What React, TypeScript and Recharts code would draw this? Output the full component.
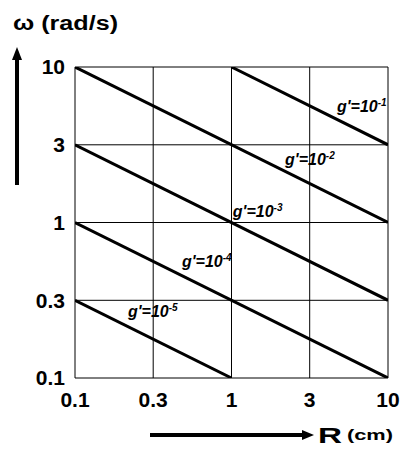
import React from 'react';
import { ComposedChart, Line, Scatter, XAxis, YAxis, CartesianGrid } from 'recharts';

// Log-log chart: R (cm) on x, omega (rad/s) on y
const R_TICKS = [0.1, 0.316, 1, 3.16, 10];
const R_TICK_LABELS = ['0.1', '0.3', '1', '3', '10'];
const W_TICKS = [0.1, 0.316, 1, 3.16, 10];
const W_TICK_LABELS = ['0.1', '0.3', '1', '3', '10'];

const G1 = [{ R: 1, w: 10 }, { R: 10, w: 3.16 }];
const G2 = [{ R: 0.1, w: 10 }, { R: 10, w: 1 }];
const G3 = [{ R: 0.1, w: 3.16 }, { R: 10, w: 0.316 }];
const G4 = [{ R: 0.1, w: 1 }, { R: 10, w: 0.1 }];
const G5 = [{ R: 0.1, w: 0.316 }, { R: 1, w: 0.1 }];

const LABELS = [
  { R: 4.72, w: 5.14, exp: '-1' },
  { R: 2.2, w: 2.34, exp: '-2' },
  { R: 1.02, w: 1.08, exp: '-3' },
  { R: 0.483, w: 0.518, exp: '-4' },
  { R: 0.218, w: 0.247, exp: '-5' },
];

const FONT = '"Liberation Sans", Arial, sans-serif';

const fmt = (labels: string[], ticks: number[]) => (v: number) => {
  const i = ticks.findIndex((t) => Math.abs(t - v) / t < 0.01);
  return i >= 0 ? labels[i] : '';
};

const LabelShape = (props: any) => {
  const { cx, cy, payload } = props;
  return (
    <text x={cx} y={cy} fontFamily={FONT} fontWeight="bold" fontStyle="italic" fontSize={16} fill="#000">
      g'=10
      <tspan fontSize={10} dy={-6}>{payload.exp}</tspan>
    </text>
  );
};

export default function App() {
  return (
    <div style={{ position: 'absolute', left: 0, top: 0, width: 404, height: 449, background: '#fff' }}>
      <ComposedChart width={404} height={449} margin={{ top: 67, right: 16, bottom: 41, left: 15 }}>
        <CartesianGrid stroke="#000" strokeWidth={1} />
        <XAxis
          dataKey="R"
          type="number"
          scale="log"
          domain={[0.1, 10]}
          ticks={R_TICKS}
          tickFormatter={fmt(R_TICK_LABELS, R_TICKS)}
          allowDataOverflow
          axisLine={false}
          tickLine={false}
          height={30}
          tickMargin={8}
          tick={{ fill: '#000', fontSize: 21, fontWeight: 'bold', fontFamily: FONT }}
        />
        <YAxis
          dataKey="w"
          type="number"
          scale="log"
          domain={[0.1, 10]}
          ticks={W_TICKS}
          tickFormatter={fmt(W_TICK_LABELS, W_TICKS)}
          allowDataOverflow
          axisLine={false}
          tickLine={false}
          width={60}
          tickMargin={4}
          tick={{ fill: '#000', fontSize: 21, fontWeight: 'bold', fontFamily: FONT }}
        />
        {[G1, G2, G3, G4, G5].map((d, i) => (
          <Line key={i} data={d} dataKey="w" stroke="#000" strokeWidth={3} dot={false} isAnimationActive={false} />
        ))}
        <Scatter data={LABELS} dataKey="w" shape={LabelShape} isAnimationActive={false} />
      </ComposedChart>
      <svg width={404} height={449} style={{ position: 'absolute', left: 0, top: 0, pointerEvents: 'none' }}>
        <text x={13} y={30} fontFamily={FONT} fontWeight="bold" fontSize={20} fill="#000" textLength={105} lengthAdjust="spacingAndGlyphs">
          ω (rad/s)
        </text>
        <line x1={17} y1={185} x2={17} y2={58} stroke="#000" strokeWidth={4} />
        <polygon points="17,47 12,60 22,60" fill="#000" />
        <line x1={150} y1={435} x2={304} y2={435} stroke="#000" strokeWidth={4} />
        <polygon points="314,435 302,430 302,440" fill="#000" />
        <text x={318} y={443} fontFamily={FONT} fontWeight="bold" fontSize={22} fill="#000" textLength={24} lengthAdjust="spacingAndGlyphs">
          R
        </text>
        <text x={347} y={440} fontFamily={FONT} fontWeight="bold" fontSize={15} fill="#000" textLength={46} lengthAdjust="spacingAndGlyphs">
          (cm)
        </text>
      </svg>
    </div>
  );
}
